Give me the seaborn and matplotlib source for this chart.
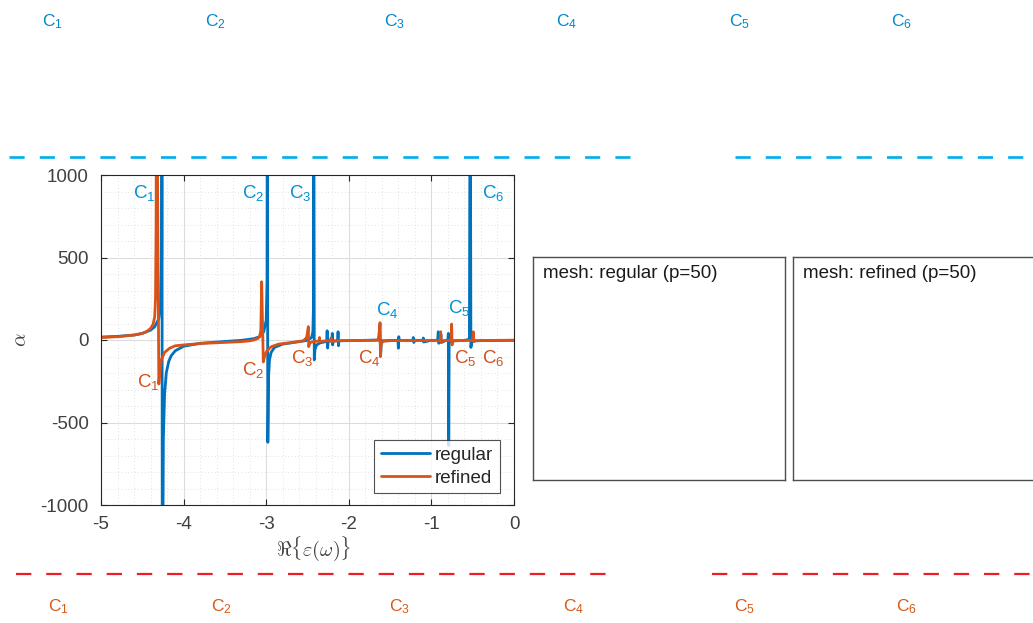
import numpy as np
import pandas as pd
import matplotlib
matplotlib.use("Agg")
import matplotlib.pyplot as plt
from matplotlib.lines import Line2D
from matplotlib.ticker import MultipleLocator
import seaborn as sns

# ---------------- data, (x, y) pairs ----------------
reg_pts = [(-5.0, 18), (-4.8, 22), (-4.6, 30), (-4.5, 40), (-4.4, 60), (-4.35, 80),
           (-4.30, 130), (-4.28, 220), (-4.265, 500), (-4.262, 2000), (-4.258, -2000),
           (-4.245, -600), (-4.23, -330), (-4.21, -200), (-4.18, -130), (-4.15, -95),
           (-4.1, -65), (-4.0, -38), (-3.8, -20), (-3.5, -9), (-3.3, -2), (-3.15, 8),
           (-3.08, 20), (-3.03, 50), (-3.0, 120), (-2.99, 350), (-2.986, 2000),
           (-2.980, -620), (-2.972, -230), (-2.96, -120), (-2.94, -75), (-2.9, -45),
           (-2.8, -25), (-2.6, -10), (-2.5, -2), (-2.45, 15), (-2.435, 50),
           (-2.428, 200), (-2.424, 2000), (-2.418, -121), (-2.41, -60), (-2.39, -30),
           (-2.35, -18), (-2.3, -12), (-2.268, -10), (-2.262, 56), (-2.256, -49),
           (-2.25, -8), (-2.205, -6), (-2.2, 40), (-2.195, -30), (-2.19, -6),
           (-2.135, -5), (-2.13, 50), (-2.125, -35), (-2.12, -5), (-2.0, -4),
           (-1.8, -2), (-1.64, 0), (-1.625, 90), (-1.615, -90), (-1.605, -5),
           (-1.5, -3), (-1.405, -3), (-1.4, -50), (-1.395, 20), (-1.39, -3),
           (-1.225, -2), (-1.219, 15), (-1.213, -15), (-1.2, -2), (-1.10, -2),
           (-1.098, 12), (-1.094, -12), (-1.0, -2), (-0.925, -2), (-0.917, 50),
           (-0.911, -20), (-0.892, -2), (-0.885, 35), (-0.879, -15), (-0.82, -2),
           (-0.80, 0), (-0.795, 40), (-0.790, -640), (-0.785, -20), (-0.77, -5),
           (-0.6, -3), (-0.54, 5), (-0.53, 2000), (-0.522, -45), (-0.51, -12),
           (-0.48, -6), (-0.4, -4), (-0.2, -3), (0.0, -2)]

ref_pts = [(-5.0, 15), (-4.8, 20), (-4.6, 30), (-4.5, 40), (-4.45, 50), (-4.4, 70),
           (-4.37, 95), (-4.35, 140), (-4.34, 250), (-4.333, 700), (-4.327, 2000),
           (-4.30, -267), (-4.285, -180), (-4.27, -121), (-4.23, -75), (-4.17, -50),
           (-4.1, -35), (-3.96, -28), (-3.75, -20), (-3.52, -15), (-3.3, -10),
           (-3.2, -5), (-3.15, 0), (-3.1, 10), (-3.08, 20), (-3.065, 60),
           (-3.055, 353), (-3.035, -133), (-3.02, -100), (-2.996, -70), (-2.96, -50),
           (-2.935, -40), (-2.85, -25), (-2.71, -16), (-2.55, -5), (-2.51, 15),
           (-2.49, 81), (-2.485, -40), (-2.475, -20), (-2.45, -12), (-2.4, -8),
           (-2.36, -6), (-2.355, 15), (-2.35, -10), (-2.3, -6), (-2.22, -4),
           (-2.215, 12), (-2.21, -8), (-2.1, -4), (-1.9, -3), (-1.7, -2), (-1.64, 0),
           (-1.63, 30), (-1.622, 105), (-1.617, -101), (-1.61, -30), (-1.6, -16),
           (-1.58, -8), (-1.5, -4), (-1.3, -3), (-1.1, -3), (-0.95, -3), (-0.895, -5),
           (-0.888, 50), (-0.882, -15), (-0.87, -4), (-0.78, -3), (-0.762, 0),
           (-0.755, 97), (-0.750, -30), (-0.743, -10), (-0.73, -5), (-0.6, -3),
           (-0.50, -3), (-0.493, 50), (-0.487, -10), (-0.48, -4), (-0.4, -3),
           (-0.2, -2), (0.0, -1)]

series_names = ["regular", "refined"]
series_colors = ["#0072BD", "#D95319"]

in_labels = [r"C$_\mathregular{1}$", r"C$_\mathregular{2}$", r"C$_\mathregular{3}$",
             r"C$_\mathregular{4}$", r"C$_\mathregular{5}$", r"C$_\mathregular{6}$"]
reg_lab_x = [-4.61, -3.29, -2.72, -1.67, -0.80, -0.387]
reg_lab_y = [891, 891, 891, 182, 194, 891]
ref_lab_x = [-4.564, -3.29, -2.70, -1.89, -0.73, -0.387]
ref_lab_y = [-255, -182, -109, -109, -109, -109]

panel_titles = ["mesh: regular (p=50)", "mesh: refined (p=50)"]

# ---------------- figure ----------------
sns.set_theme(style="white")
plt.rcParams["font.family"] = ["Liberation Sans", "DejaVu Sans"]
plt.rcParams["mathtext.fontset"] = "custom"
plt.rcParams["mathtext.rm"] = "Liberation Sans"
plt.rcParams["mathtext.it"] = "Liberation Sans:italic"

W, H = 1033, 623
fig = plt.figure(figsize=(W / 100, H / 100), dpi=100)


def fx(px):
    return px / W


def fy(py):
    return 1 - py / H


ax = fig.add_axes([fx(101), fy(505), fx(514) - fx(101), fy(175) - fy(505)])

rows = [(x, y, series_names[0]) for x, y in reg_pts] + \
       [(x, y, series_names[1]) for x, y in ref_pts]
df = pd.DataFrame(rows, columns=["x", "y", "series"])
sns.lineplot(data=df, x="x", y="y", hue="series", palette=series_colors,
             sort=False, estimator=None, linewidth=2.0, ax=ax, legend=False)

ax.set_xlim(-5, 0)
ax.set_ylim(-1000, 1000)
ax.xaxis.set_major_locator(MultipleLocator(1))
ax.xaxis.set_minor_locator(MultipleLocator(0.2))
ax.yaxis.set_major_locator(MultipleLocator(500))
ax.yaxis.set_minor_locator(MultipleLocator(100))
ax.grid(True, which="major", color="#dcdcdc", linewidth=0.8, linestyle="-")
ax.grid(True, which="minor", color="#d8d8d8", linewidth=0.6, linestyle=(0, (1, 3)))
ax.set_axisbelow(True)
for s in ax.spines.values():
    s.set_color("#262626")
    s.set_linewidth(0.8)
    s.set_visible(True)
ax.tick_params(which="major", direction="in", length=4, width=0.8, color="#262626",
               labelsize=13.5, labelcolor="#404040", top=True, right=True,
               bottom=True, left=True)
ax.tick_params(axis="x", which="major", pad=8)
ax.tick_params(axis="y", which="major", pad=9)
ax.tick_params(which="minor", length=0)
ax.set_xticks([-5, -4, -3, -2, -1, 0])
ax.set_xticklabels(["-5", "-4", "-3", "-2", "-1", "0"])
ax.set_yticks([-1000, -500, 0, 500, 1000])
ax.set_yticklabels(["-1000", "-500", "0", "500", "1000"])

ax.set_xlabel(r"$\Re\{\varepsilon(\omega)\}$", fontsize=14.5, color="#404040",
              math_fontfamily="cm")
ax.xaxis.set_label_coords((314 - 101) / 413, -(549 - 505) / 330)
ax.xaxis.label.set_va("center")
ax.set_ylabel(r"$\alpha$", fontsize=15, color="#404040", math_fontfamily="cm")
ax.yaxis.set_label_coords(-(101 - 21) / 413, 0.5)
ax.yaxis.label.set_va("center")

for t, x, y in zip(in_labels, reg_lab_x, reg_lab_y):
    ax.text(x, y, t, color="#0092D2", fontsize=13.5, ha="left", va="center")
for t, x, y in zip(in_labels, ref_lab_x, ref_lab_y):
    ax.text(x, y, t, color="#D0501A", fontsize=13.5, ha="left", va="center")

handles = [Line2D([], [], color=c, lw=2.0) for c in series_colors]
leg = ax.legend(handles, series_names, loc="lower right", fontsize=13.5,
                frameon=True, fancybox=False, handlelength=2.6,
                handletextpad=0.3, borderpad=0.35, labelspacing=0.3,
                borderaxespad=0, bbox_to_anchor=(0.966, 0.036))
leg.get_frame().set_edgecolor("#262626")
leg.get_frame().set_linewidth(0.8)

# ---------------- panels ----------------
for (l, r), title in zip([(533, 785), (793, 1040)], panel_titles):
    pax = fig.add_axes([fx(l), fy(480), fx(r) - fx(l), fy(257) - fy(480)])
    pax.set_xticks([])
    pax.set_yticks([])
    pax.set_facecolor("white")
    for s in pax.spines.values():
        s.set_color("#4d4d4d")
        s.set_linewidth(1.0)
    pax.text(10 / (r - l), 0.965, title, transform=pax.transAxes, fontsize=13.5,
             ha="left", va="top", color="#1a1a1a")

# ---------------- overlay (dashed lines, top/bottom labels) ----------------
ov = fig.add_axes([0, 0, 1, 1], zorder=-1)
ov.set_xlim(0, W)
ov.set_ylim(H, 0)
ov.axis("off")
ov.plot([9, 630], [157, 157], color="#00AEEF", lw=1.9, dashes=(5.74, 5.74))
ov.plot([735, 1033], [157, 157], color="#00AEEF", lw=1.9, dashes=(5.74, 5.74))
ov.plot([16, 606], [574, 574], color="#EE1C25", lw=1.6, dashes=(6.9, 6.7))
ov.plot([712, 1033], [574, 574], color="#EE1C25", lw=1.6, dashes=(6.9, 6.7))

top_x = [42, 205, 384, 556, 729, 891]
bot_x = [48, 211, 389, 563, 734, 896]
for t, x in zip(in_labels, top_x):
    ov.text(x, 22, t, color="#0088CC", fontsize=12.5, ha="left", va="center")
for t, x in zip(in_labels, bot_x):
    ov.text(x, 607, t, color="#D55A15", fontsize=12.5, ha="left", va="center")

fig.savefig("out.png", dpi=100)
